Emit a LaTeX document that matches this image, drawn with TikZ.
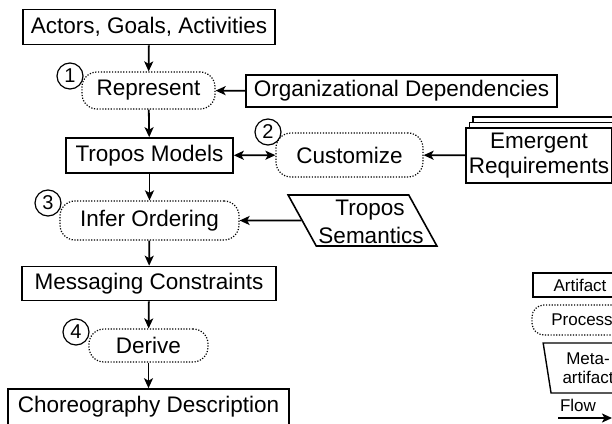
\documentclass[tikz,border=0pt]{standalone}
\usepackage{fontspec}
\setmainfont{Liberation Sans}
\usetikzlibrary{arrows.meta}
\usetikzlibrary{shapes.geometric}
\usetikzlibrary{positioning}

\tikzset{
  artifact/.style={draw, line width=1.6pt, fill=white, inner sep=0pt, align=center, font=\fontsize{22.5}{25}\selectfont},
  process/.style={draw, line width=1.2pt, dash pattern=on 1.2pt off 1.6pt, rounded corners=15pt, inner sep=0pt, font=\fontsize{22.5}{25}\selectfont},
  meta/.style={draw, trapezium, trapezium stretches=true, line width=1.6pt, fill=white, inner sep=0pt, align=center, font=\fontsize{22.5}{25}\selectfont},
  stepnum/.style={draw, circle, line width=1.2pt, fill=white, minimum size=26pt, inner sep=0pt, font=\fontsize{20}{20}\selectfont},
  flow/.style={-{Stealth[length=10pt, width=9pt, inset=2.5pt]}, line width=1.8pt},
  legend/.style={font=\fontsize{17}{19}\selectfont}
}

\begin{document}
\begin{tikzpicture}[x=1pt, y=-1pt]
\path[use as bounding box] (0,0) rectangle (612,423);
\clip (0,0) rectangle (612,423);

%main chain
\node [artifact, minimum width=252pt, minimum height=35pt] (actors) at (149,27) {Actors, Goals, Activities};
\node [process, minimum width=133pt, minimum height=37pt] (represent) at (148.5,90.5) {Represent};
\node [artifact, minimum width=167pt, minimum height=35pt] (models) at (149.5,155.5) {Tropos Models};
\node [process, minimum width=179pt, minimum height=39pt] (infer) at (149.5,220.5) {Infer Ordering};
\node [artifact, minimum width=254pt, minimum height=34pt] (messaging) at (149,283.5) {Messaging Constraints};
\node [process, minimum width=119pt, minimum height=33pt] (derive) at (148.5,345.5) {Derive};
\node [artifact, minimum width=281pt, minimum height=36pt] (choreo) at (148.5,407) {Choreography Description};

%inputs
\node [artifact, minimum width=311pt, minimum height=32pt] (orgdep) at (401.5,91) {Organizational Dependencies};
\node [process, minimum width=147pt, minimum height=44pt] (customize) at (349.5,155) {Customize};
\draw [line width=1.4pt, fill=white] (473,117) rectangle (620,172);
\draw [line width=1.4pt, fill=white] (469.5,122.5) rectangle (616,177.5);
\node [artifact, minimum width=146pt, minimum height=55pt] (emergent) at (539,155.5) {Emergent\\Requirements};
\node [meta, trapezium left angle=115, trapezium right angle=65, minimum width=149pt, minimum height=51pt] (semantics) at (362.5,220.5) {\phantom{Tropos}\\\phantom{Tropos}};
\node [inner sep=0pt, font=\fontsize{22.5}{25}\selectfont] (semtop) at (370,210) {Tropos};
\node [inner sep=0pt, font=\fontsize{22.5}{25}\selectfont] (semtext) at (371,235) {Semantics};

%step numbers
\node [stepnum] (one) at (70,76) {1};
\node [stepnum] (two) at (268,132) {2};
\node [stepnum] (three) at (48,203) {3};
\node [stepnum] (four) at (76,332) {4};

%flows
\draw [flow] (actors) -- (represent);
\draw [flow] (orgdep) -- (represent);
\draw [flow] (represent) -- (models);
\draw [flow, {Stealth[length=10pt, width=9pt, inset=2.5pt]}-{Stealth[length=10pt, width=9pt, inset=2.5pt]}] (models) -- (customize);
\draw [flow] (emergent) -- (customize);
\draw [flow] (models) -- (infer);
\draw [flow] (semantics.west) -- (infer.east);
\draw [flow] (infer) -- (messaging);
\draw [flow] (messaging) -- (derive);
\draw [flow] (derive) -- (choreo);

%legend
\node [artifact, legend, line width=1.4pt, minimum width=94pt, minimum height=24pt] (legart) at (580,285) {Artifact};
\node [process, legend, rounded corners=12pt, minimum width=100pt, minimum height=30pt] (legproc) at (582,320) {Process};
\node [meta, legend, line width=1.4pt, trapezium left angle=100, trapezium right angle=80, minimum width=90pt, minimum height=50pt] (legmeta) at (588,368) {Meta-\\artifact};
\node [legend] (legflow) at (578,405) {Flow};
\coordinate (flowstart) at (558,418);
\coordinate (flowend) at (612,418);
\draw [flow, line width=2pt] (flowstart) -- (flowend);

\end{tikzpicture}
\end{document}
